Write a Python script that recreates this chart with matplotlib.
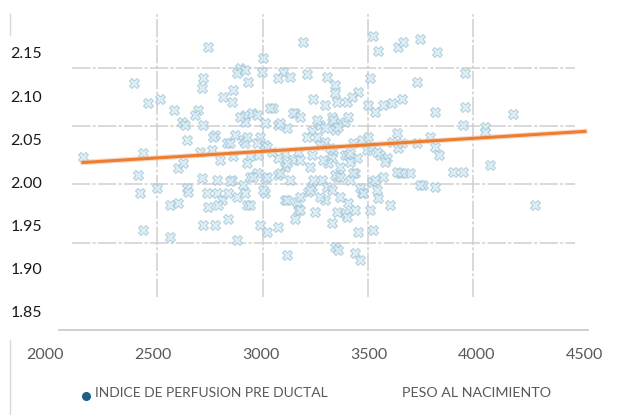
import matplotlib
matplotlib.use("Agg")
import matplotlib.pyplot as plt
from matplotlib import font_manager
from matplotlib.lines import Line2D

# birth weight (g)
peso = [
    2755, 3195, 3519, 3542, 3634, 3658, 3736, 3815, 3945, 2412,
    2903, 2889, 2926, 2731, 2727, 2870, 2824, 2866, 3009, 3005,
    2940, 3102, 3079, 3134, 3213, 3306, 3343, 3343, 3449, 3505,
    3722, 2477, 2532, 2597, 2634, 2708, 2694, 2731, 2648, 2657,
    2787, 2843, 2880, 2917, 2176, 2454, 2718, 2773, 2926, 2926,
    3241, 3296, 3352, 3398, 3421, 3495, 3528, 3565, 3607, 3653,
    3056, 3157, 2958, 3019, 3079, 3120, 3236, 3273, 3329, 3343,
    3389, 3403, 3343, 3259, 3296, 3468, 3491, 3630, 3607, 3634,
    3722, 3583, 3445, 3389, 3329, 3236, 3171, 3111, 3079, 2986,
    2949, 3019, 2926, 3806, 3945, 3935, 4037, 4037, 4167, 3783,
    3806, 3824, 3551, 3514, 3495, 3403, 3412, 3435, 3333, 3644,
    3690, 3889, 3935, 4060, 3750, 3806, 3352, 3366, 4269,
    2430, 2616, 2639, 2440, 2519, 2579, 2616, 2657, 2662, 2727,
    2796, 2866, 2750, 2796, 2820, 2755, 2801, 2847, 2889, 2917,
    2926, 2935, 2731, 2787, 2847, 2454, 2579, 2889,
    2949, 3019, 3079, 3111, 3019, 2949, 3111, 3167, 3171, 3157,
    3250, 3218, 3236, 3283, 3343, 3310, 3426, 3296, 3329, 2995,
    3028, 3079, 3120, 3343, 3357, 3435, 3458, 3449, 3519, 3389,
    3403, 3435, 3468, 3458, 3514, 3542, 3505, 3597, 3653, 3736, 3574,
    2981, 3088, 3213, 3259, 3296, 3333, 3357, 2995, 3051, 3148,
    3273, 3320, 3287, 3412, 3426, 3537, 3653, 3630, 3565, 3528,
    3537, 3366, 3412, 3472, 3366, 3306, 3241, 3227, 3273, 3181,
    3134, 3088, 3028, 3009, 2981, 3120, 3181, 3352, 3329, 3398,
    2857, 2935, 2981, 3028, 2935, 2963, 3120, 3181, 3227, 2870,
    2810, 2778, 2857, 2903, 3148, 3042, 3181,
]

# pre-ductal perfusion index (same order)
indice = [
    2.157, 2.162, 2.169, 2.152, 2.157, 2.163, 2.166, 2.151, 2.127, 2.115,
    2.133, 2.127, 2.130, 2.121, 2.109, 2.107, 2.099, 2.093, 2.144, 2.128,
    2.116, 2.128, 2.121, 2.122, 2.125, 2.122, 2.113, 2.104, 2.105, 2.121,
    2.116, 2.092, 2.096, 2.084, 2.070, 2.084, 2.078, 2.067, 2.067, 2.049,
    2.055, 2.046, 2.055, 2.049, 2.029, 2.034, 2.035, 2.038, 2.078, 2.070,
    2.096, 2.090, 2.093, 2.093, 2.099, 2.090, 2.082, 2.090, 2.092, 2.096,
    2.086, 2.080, 2.080, 2.069, 2.067, 2.063, 2.059, 2.067, 2.076, 2.069,
    2.070, 2.076, 2.061, 2.052, 2.047, 2.049, 2.038, 2.057, 2.047, 2.040,
    2.046, 2.028, 2.028, 2.032, 2.028, 2.032, 2.035, 2.034, 2.028, 2.032,
    2.030, 2.043, 2.046, 2.082, 2.087, 2.067, 2.064, 2.058, 2.079, 2.052,
    2.041, 2.032, 2.032, 2.041, 2.052, 2.032, 2.024, 2.011, 2.038, 2.011,
    2.011, 2.012, 2.012, 2.020, 1.997, 1.995, 2.006, 2.018, 1.974,
    2.009, 2.017, 2.023, 1.988, 1.994, 1.974, 1.976, 1.994, 1.989, 2.005,
    2.003, 2.003, 1.988, 1.988, 1.980, 1.972, 1.974, 1.988, 1.983, 1.997,
    1.988, 1.974, 1.951, 1.951, 1.957, 1.945, 1.937, 1.933,
    2.006, 2.005, 2.009, 2.018, 1.988, 1.974, 1.980, 1.977, 1.968, 1.957,
    1.966, 1.989, 1.995, 2.003, 2.009, 2.023, 2.011, 1.980, 1.953, 1.951,
    1.943, 1.948, 1.916, 1.925, 1.922, 1.918, 1.910, 1.943, 1.945, 1.965,
    1.976, 1.968, 1.988, 1.994, 2.000, 1.982, 1.968, 1.974, 2.011, 1.997, 2.024,
    2.078, 2.069, 2.053, 2.072, 2.063, 2.072, 2.064, 2.053, 2.035, 2.026,
    2.043, 2.040, 2.026, 2.034, 2.046, 2.035, 2.046, 2.012, 2.006, 2.003,
    1.991, 2.006, 2.003, 1.988, 1.983, 1.995, 2.003, 1.991, 1.983, 1.983,
    2.003, 2.011, 2.006, 1.991, 2.011, 1.980, 1.968, 1.966, 1.991, 1.960,
    2.046, 2.053, 2.046, 2.041, 2.023, 2.006, 2.023, 2.026, 2.018, 2.030,
    2.026, 2.053, 2.001, 2.076, 2.080, 2.086, 2.076,
]

# linear trend line as drawn (end points)
trend_x = [2176, 4500]
trend_y = [2.023, 2.059]

x_ticks = [2000, 2500, 3000, 3500, 4000, 4500]
y_ticks = [1.85, 1.90, 1.95, 2.00, 2.05, 2.10, 2.15]

# the gridlines in the source image don't sit on the ticks
grid_x = [2519, 3009, 3495, 3982]
grid_y = [2.1326, 2.0655, 1.998, 1.930]

series_label = "INDICE DE PERFUSION PRE DUCTAL"
axis_label = "PESO AL NACIMIENTO"

assert len(peso) == len(indice)

installed = {f.name for f in font_manager.fontManager.ttflist}
family = [f for f in ["Liberation Sans Narrow", "Lato", "DejaVu Sans"] if f in installed]
plt.rcParams["font.family"] = family

fig = plt.figure(figsize=(6.21, 4.15), dpi=100)
ax = fig.add_axes([45 / 621, 1 - 330 / 415, 543 / 621, 316 / 415])

ax.set_xlim(2000, 4514)
ax.set_ylim(1.829, 2.195)

for s in ["top", "right", "left"]:
    ax.spines[s].set_visible(False)
ax.spines["bottom"].set_bounds(2065, 4514)
ax.spines["bottom"].set_color("#c8c8c8")
ax.spines["bottom"].set_linewidth(1.2)

grid_style = dict(colors="#cfcfcf", linewidth=1.1, linestyles=(0, (12, 1.5, 2, 1.5)), zorder=1)
ax.hlines(grid_y, 2125, 4454, **grid_style)
ax.vlines(grid_x, 1.867, 2.195, **grid_style)

ax.scatter(peso, indice, marker="X", s=52, facecolor="#d9ebf4", edgecolor="#95bdd0",
           linewidths=0.55, alpha=0.85, zorder=2)
ax.plot(trend_x, trend_y, color="#f2c29f", linewidth=3.8, alpha=0.6, zorder=3)
ax.plot(trend_x, trend_y, color="#ED7D31", linewidth=2.2, zorder=4)

ax.set_xticks(x_ticks)
ax.set_xticklabels([str(v) for v in x_ticks])
ax.set_yticks(y_ticks)
ax.set_yticklabels([f"{v:.2f}" for v in y_ticks])
ax.tick_params(axis="x", length=0, pad=13, labelsize=11.5, labelcolor="#595959")
ax.tick_params(axis="y", length=0, pad=2, labelsize=11.5, labelcolor="#1a1a1a")

# legend row at the bottom
fig.add_artist(Line2D([86 / 621], [1 - 396 / 415], marker="o", markersize=5.5,
                      color="#1f5f86", linestyle="none"))
fig.text(95 / 621, 1 - 393 / 415, series_label, ha="left", va="center",
         fontsize=10, color="#595959")
fig.text(402 / 621, 1 - 393 / 415, axis_label, ha="left", va="center",
         fontsize=10.3, color="#595959")

# stray border fragments on the left edge
fig.add_artist(Line2D([10 / 621, 10 / 621], [1 - 14 / 415, 1 - 35 / 415], color="#d9d9d9", linewidth=1))
fig.add_artist(Line2D([10 / 621, 10 / 621], [1 - 340 / 415, 0], color="#d9d9d9", linewidth=1))

fig.savefig("out.png", dpi=100, facecolor="white")
